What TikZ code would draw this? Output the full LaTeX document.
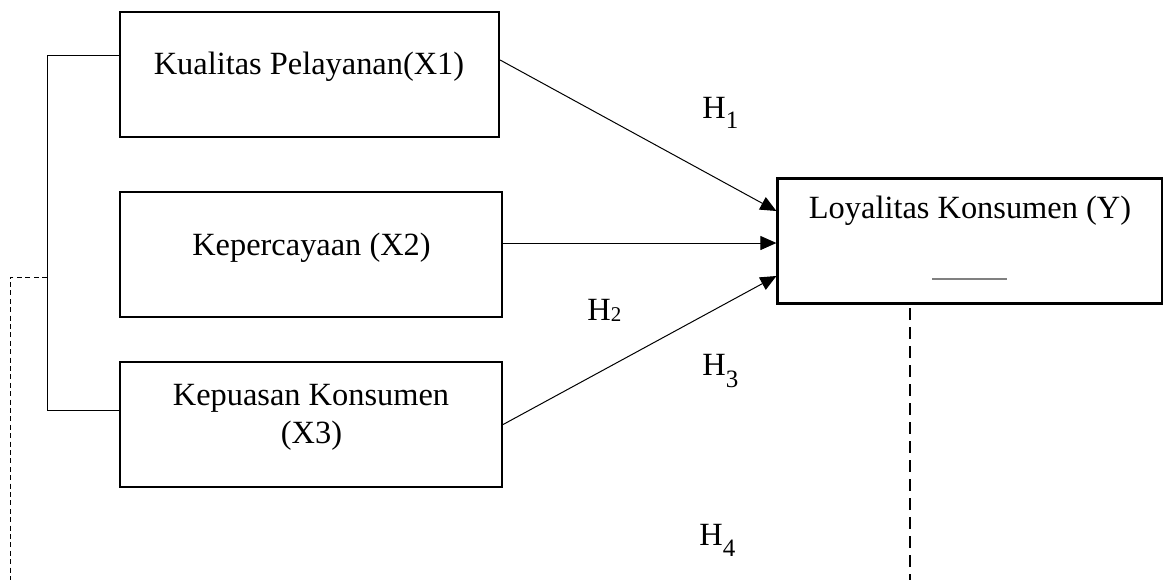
\documentclass[tikz,border=0pt]{standalone}
\usepackage{fontspec}
\setmainfont{Liberation Serif}
\usetikzlibrary{arrows.meta}
\begin{document}
\begin{tikzpicture}[x=0.5pt,y=-0.5pt,
  box/.style={draw, line width=1.1pt, minimum width=#1, minimum height=62.5pt, inner sep=0pt},
  txt/.style={anchor=base, inner sep=0pt, font=\fontsize{16.2}{19.4}\selectfont},
  hlbl/.style={anchor=base west, inner sep=0pt, font=\fontsize{16.2}{19.4}\selectfont},
  arr/.style={line width=0.5pt, -{Triangle[length=8pt,width=7pt]}},
  link/.style={line width=0.5pt},
  thindash/.style={line width=0.5pt, dash pattern=on 2.5pt off 1.7pt},
  thickdash/.style={line width=0.9pt, dash pattern=on 6pt off 3.5pt}
]
\useasboundingbox (0,0) rectangle (1163,580);
% boxes
\node[box=189.5pt] (X1) at (309.5,74.5) {};
\node[box=191pt] (X2) at (311,254.5) {};
\node[box=191pt] (X3) at (311,424.5) {};
\node[box=192.25pt] (Y) at (969.75,241) {};
% texts
\node[txt] (t1) at (309,74) {Kualitas Pelayanan(X1)};
\node[txt] (t2) at (311.5,255) {Kepercayaan (X2)};
\node[txt] (t3a) at (311,405) {Kepuasan Konsumen};
\node[txt] (t3b) at (311.5,443) {(X3)};
\node[txt] (ty) at (970,218) {Loyalitas Konsumen (Y)};
\draw[line width=0.8pt, gray] (932,279) coordinate (ul1) -- (1007,279) coordinate (ul2);
% hypothesis labels
\node[hlbl] (h1) at (702,118) {H\raisebox{-5pt}{\fontsize{12.5}{14}\selectfont 1}};
\node[hlbl] (h2) at (587,320) {H\raisebox{-0.5pt}{\fontsize{10.5}{12}\selectfont 2}};
\node[hlbl] (h3) at (702,375) {H\raisebox{-6pt}{\fontsize{12.5}{14}\selectfont 3}};
\node[hlbl] (h4) at (699,545) {H\raisebox{-5.5pt}{\fontsize{12.5}{14}\selectfont 4}};
% arrows
\draw[arr] ([yshift=7.25pt]X1.east) -- ([yshift=15pt]Y.west);
\draw[arr] ([yshift=5.75pt]X2.east) -- ([yshift=-1pt]Y.west);
\draw[arr] (X3.east) -- ([yshift=-17.5pt]Y.west);
% left bracket
\coordinate (b1) at (47,55.5);
\coordinate (b2) at (47,410);
\coordinate (bd) at (47,277);
\coordinate (dl) at (10,277);
\coordinate (dlb) at (10,580);
\draw[link] ([yshift=9.5pt]X1.west) -- (b1) -- (b2) -- ([yshift=7.25pt]X3.west);
\draw[thindash] (bd) -- (dl) -- (dlb);
% dashed from Y
\coordinate (yd1) at (910,308);
\coordinate (yd2) at (910,580);
\draw[thickdash] (yd1) -- (yd2);
\end{tikzpicture}
\end{document}
